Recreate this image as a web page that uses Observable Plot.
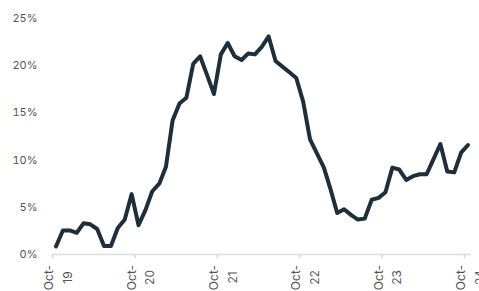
<!DOCTYPE html>
<html>
<head>
<meta charset="utf-8">
<script src="https://cdn.jsdelivr.net/npm/d3@7"></script>
<script src="https://cdn.jsdelivr.net/npm/@observablehq/plot@0.6"></script>
<style>
  html, body { margin: 0; padding: 0; background: #fff; }
</style>
</head>
<body>
<div id="chart"></div>
<script>
// Monthly series, Oct-2019 .. Oct-2024 (percent)
const startMonth = "2019-10-01";
const values = [0.85, 2.55, 2.55, 2.3, 3.3, 3.2, 2.7, 0.9, 0.9, 2.8,
  3.7, 6.4, 3.1, 4.7, 6.7, 7.5, 9.3, 14.2, 16.0, 16.6,
  20.2, 21.0, 19.0, 17.0, 21.2, 22.4, 21.0, 20.6, 21.3, 21.2,
  22.0, 23.1, 20.5, 19.9, 19.3, 18.7, 16.2, 12.2, 10.7, 9.2,
  6.9, 4.4, 4.8, 4.2, 3.7, 3.8, 5.8, 6.0, 6.6, 9.2,
  9.0, 7.9, 8.3, 8.5, 8.5, 10.1, 11.7, 8.8, 8.7, 10.8,
  11.6];
const xTickDates = ["2019-10-01", "2020-10-01", "2021-10-01", "2022-10-01", "2023-10-01", "2024-10-01"];
const xTickLabels = ["Oct-\n19", "Oct-\n20", "Oct-\n21", "Oct-\n22", "Oct-\n23", "Oct-\n24"];
const yTicks = [0, 5, 10, 15, 20, 25];

const start = new Date(startMonth);
const data = values.map((v, i) => {
  const m = d3.utcMonth.offset(start, i);
  const next = d3.utcMonth.offset(start, i + 1);
  return {date: new Date((+m + +next) / 2), value: v};
});
const ticks = xTickDates.map((d, i) => ({date: new Date(d), label: xTickLabels[i]}));

const chart = Plot.plot({
  width: 479,
  height: 291,
  marginLeft: 52,
  marginRight: 8,
  marginTop: 18,
  marginBottom: 37,
  style: {fontFamily: "Inter, 'DejaVu Sans', sans-serif", background: "#fff"},
  x: {type: "utc", domain: [new Date("2019-10-01"), new Date("2024-11-01")]},
  y: {domain: [0, 25]},
  marks: [
    Plot.axisY({ticks: yTicks, tickFormat: d => d + "%", tickSize: 0, tickPadding: 15,
      fontSize: 11, fill: "#555", label: null}),
    Plot.axisX({ticks: ticks.map(t => t.date), tickFormat: () => "", tickSize: 4,
      stroke: "#d6d6d6", strokeWidth: 1.5, label: null}),
    Plot.ruleY([0], {stroke: "#dcdcdc", strokeWidth: 1.5}),
    Plot.text(ticks, {x: "date", text: "label", frameAnchor: "bottom", dy: 23, dx: 4,
      rotate: -90, textAnchor: "middle", lineAnchor: "middle", lineHeight: 1.55,
      fontSize: 12, fill: "#555"}),
    Plot.line(data, {x: "date", y: "value", stroke: "#1e2e3b", strokeWidth: 4,
      strokeLinejoin: "round", strokeLinecap: "round"})
  ]
});
document.getElementById("chart").appendChild(chart);
</script>
</body>
</html>
